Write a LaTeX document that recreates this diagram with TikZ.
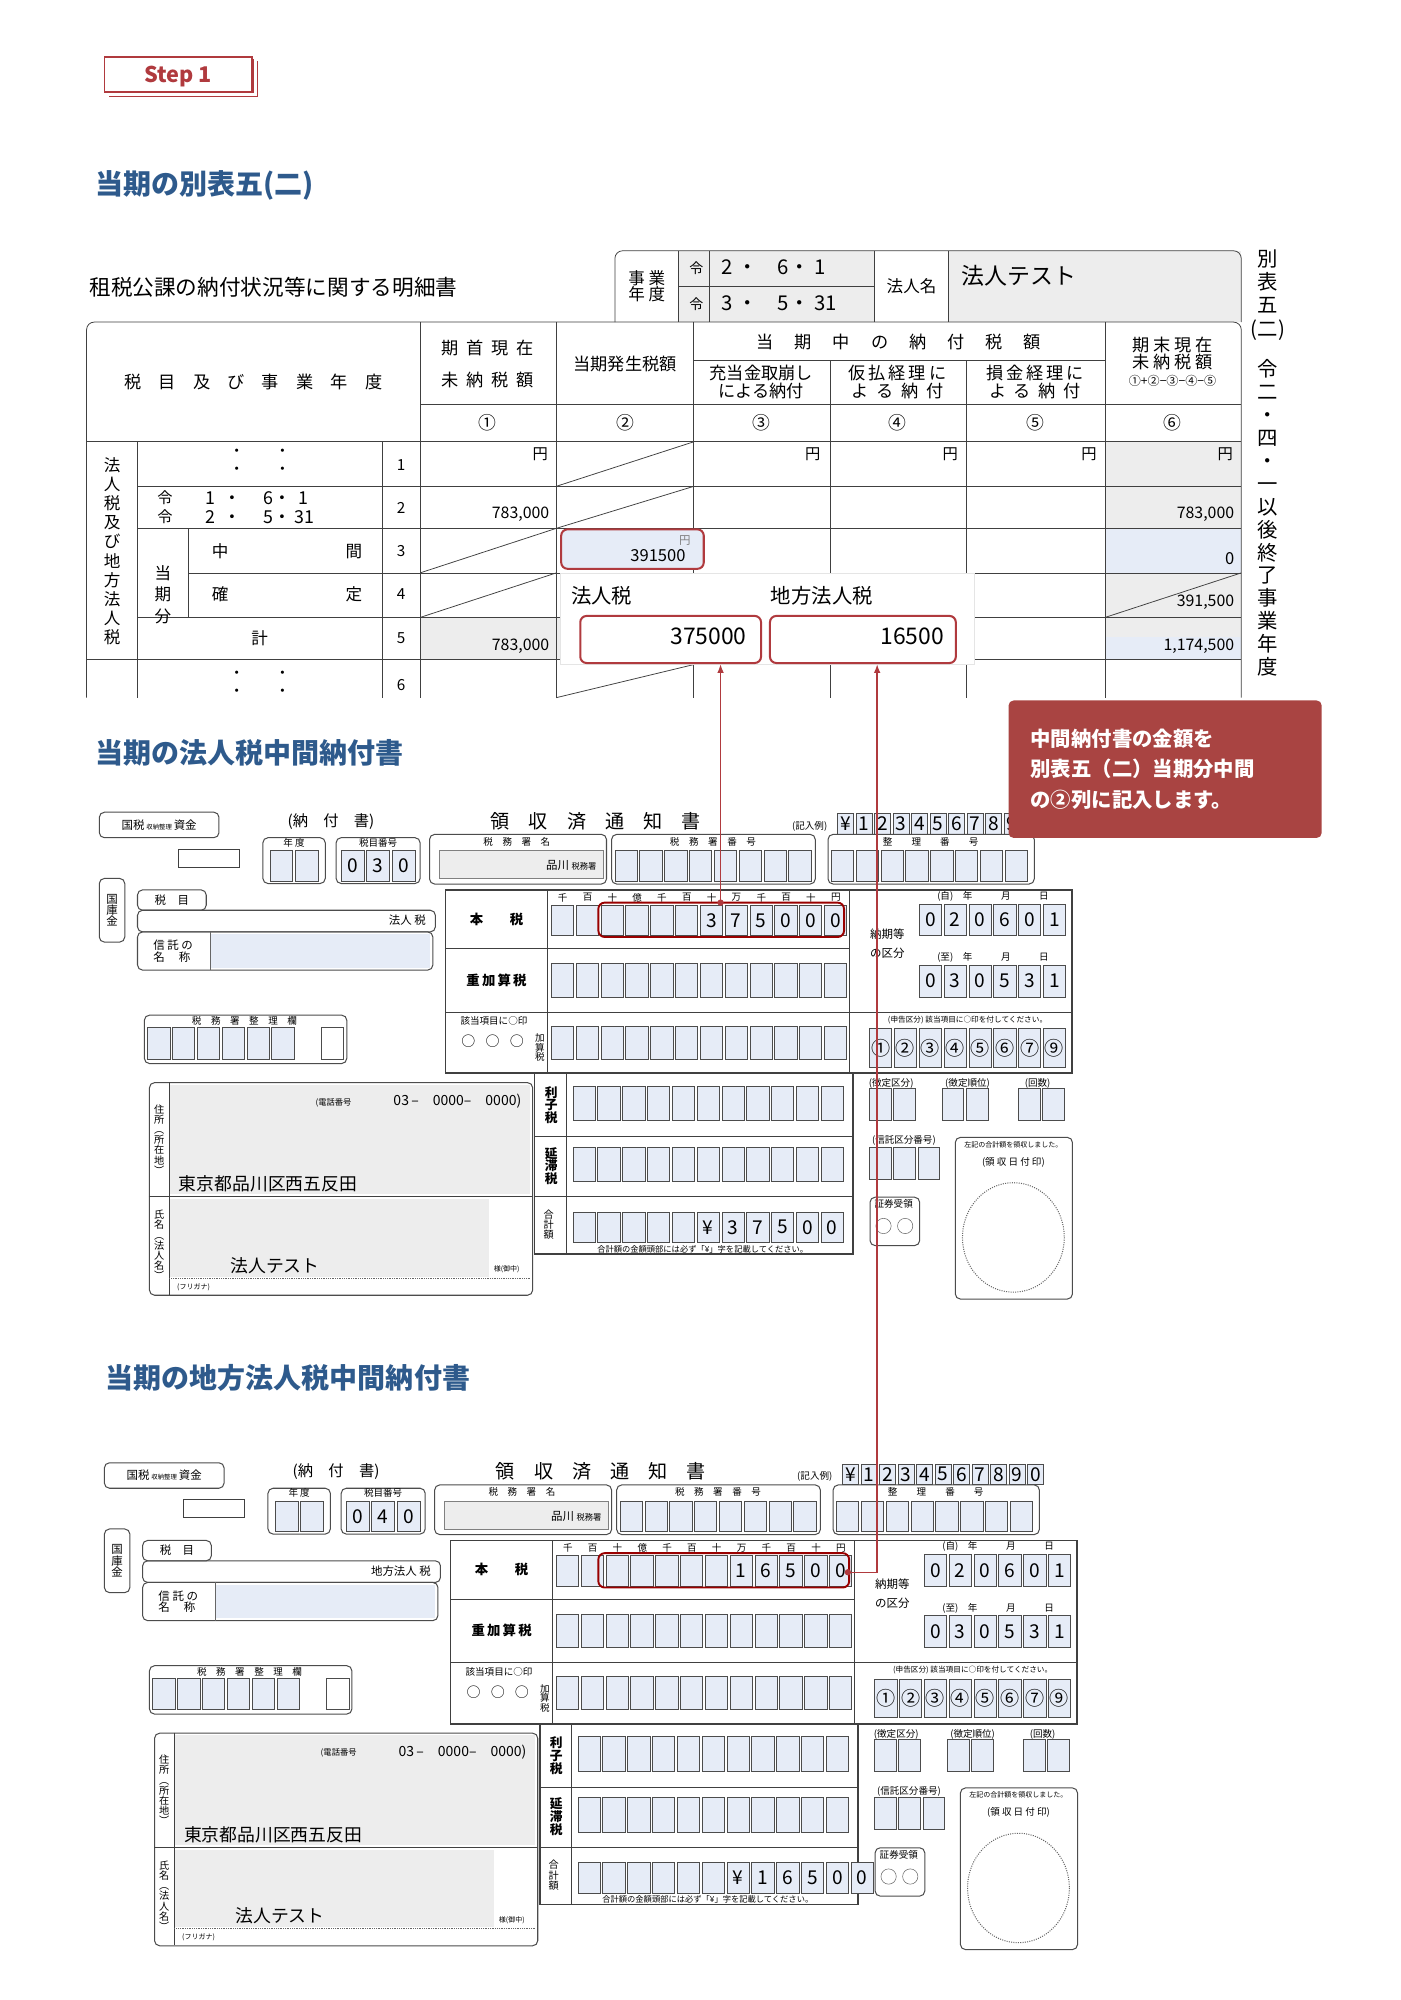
\documentclass[tikz,border=0pt]{standalone}
\usepackage{fontspec}
\setmainfont{Noto Sans CJK JP}
\usetikzlibrary{arrows.meta,calc}
\definecolor{ttl}{HTML}{2E5A8C}
\definecolor{rd}{HTML}{B03A3E}
\definecolor{callout}{HTML}{A94442}
\definecolor{cellbg}{HTML}{E6ECF7}
\definecolor{gry}{HTML}{EDEDED}
\newcommand\fs[1]{\fontsize{#1}{#1}\selectfont}
\tikzset{
  grid/.style={draw=black!75, line width=0.6},
  cellst/.style={draw=black!70, fill=cellbg, line width=0.5},
  rbox/.style={draw=black!70, rounded corners=4, line width=0.8},
  redbox/.style={draw=rd, rounded corners=5, line width=1.6},
  lbl/.style={font=\fs{7.5}, inner sep=0},
  hd/.style={font=\fs{13.5}, inner sep=0, align=center},
  ttlst/.style={font=\fs{22}\bfseries, text=ttl, anchor=west, inner sep=0},
}
% x y w h list
\newcommand\drow[5]{\foreach \d [count=\i from 0] in {#5}{%
  \draw[cellst] ({#1+\i*#3},#2) rectangle ++(#3-2,#4);
  \node[font=\fs{15}, inner sep=0] at ({#1+\i*#3+(#3-2)/2},{#2+#4/2}) {\d};}}
% prefix, code list, taxname, main list, total list
\newcommand\theform[5]{%
 \node[rbox, minimum width=94, minimum height=20, font=\fs{9}] (#1kz) at (125,648) {国税\,{\fs{5}収納整理}\,資金};
 \node[font=\fs{12}] (#1nf) at (260,645) {(納\quad 付\quad 書)};
 \node[font=\fs{15}] (#1ry) at (468,645) {領\quad 収\quad 済\quad 通\quad 知\quad 書};
 \node[lbl] (#1ex) at (636,649) {(記入例)};
 \drow{658}{639}{14.5}{16}{¥,1,2,3,4,5,6,7,8,9,0}
 \draw[grid] (140,667) rectangle (188,681);
 \node[rbox, minimum width=49, minimum height=36] (#1nd) at (231,676) {};
 \node[lbl] at (231,662) {年\ 度};
 \drow{212}{668}{20}{24}{{},{}}
 \node[rbox, minimum width=66, minimum height=36] (#1zm) at (297,676) {};
 \node[lbl] at (297,662) {税目番号};
 \drow{268}{668}{20}{24}{#2}
 \node[rbox, minimum width=139, minimum height=39, anchor=north west] (#1zs) at (337,655) {};
 \node[lbl] at (406,661) {税\quad 務\quad 署\quad 名};
 \draw[fill=gry, draw=black!50] (345,668) rectangle (474,690);
 \node[font=\fs{9}, anchor=east] at (472,680) {品川 {\fs{6.5}税務署}};
 \node[rbox, minimum width=160, minimum height=39, anchor=north west] (#1zb) at (480,655) {};
 \node[lbl] at (560,661) {税\quad 務\quad 署\quad 番\quad 号};
 \drow{483}{668}{19.5}{24}{{},{},{},{},{},{},{},{}}
 \node[rbox, minimum width=162, minimum height=39, anchor=north west] (#1sb) at (650,655) {};
 \node[lbl] at (731,661) {整\qquad 理\qquad 番\qquad 号};
 \drow{653}{668}{19.5}{24}{{},{},{},{},{},{},{},{}}
 \node[rbox, minimum width=20, minimum height=50, font=\fs{9}, align=center] (#1kk) at (88,715) {国\\庫\\金};
 \node[rbox, minimum width=54, minimum height=16, font=\fs{9}] (#1zmk) at (135,707) {税\quad 目};
 \draw[rbox] (108,715) rectangle (342,732);
 \node[font=\fs{9}, anchor=east] at (338,723) {#3};
 \draw[rbox] (108,732) rectangle (340,762);
 \fill[cellbg] (165,734) rectangle (338,760);
 \draw[black!60] (165,732) -- (165,762);
 \node[font=\fs{9}, align=left] at (136,747) {信\ 託\ の\\名\quad\ 称};
 \node[rbox, minimum width=159, minimum height=38, anchor=north west] (#1ss) at (113,797) {};
 \node[lbl] at (192,802) {税\quad 務\quad 署\quad 整\quad 理\quad 欄};
 \drow{116}{807}{19.5}{25}{{},{},{},{},{},{}}
 \draw[cellst, fill=white] (252,807) rectangle (270,832);
 % main grid
 \draw[grid, line width=1.2] (350,699) rectangle (842,843);
 \draw[grid] (350,745) -- (667,745) (350,795) -- (667,795) (430,699) -- (430,843) (667,699) -- (667,843) (667,795) -- (842,795);
 \node[font=\fs{10.5}\bfseries] (#1hz) at (390,722) {本\qquad 税};
 \node[font=\fs{10.5}\bfseries] at (390,770) {重\,加\,算\,税};
 \node[lbl] at (388,802) {該当項目に○印};
 \foreach \k in {0,1,2}{\node[font=\fs{11}, inner sep=0] at ({368+\k*19},818) {○};}
 \node[font=\fs{7.5}, align=center] at (424,823) {加\\算\\税};
 \foreach \c [count=\i from 0] in {千,百,十,億,千,百,十,万,千,百,十,円}{\node[font=\fs{7.5}, inner sep=0] at ({442+\i*19.5},705) {\c};}
 \drow{433}{711}{19.5}{24}{#4}
 \drow{433}{757}{19.5}{26}{{},{},{},{},{},{},{},{},{},{},{},{}}
 \drow{433}{806}{19.5}{26}{{},{},{},{},{},{},{},{},{},{},{},{}}
 \node[font=\fs{9}, align=center] at (697,741) {納期等\\[6pt]の区分};
 \node[lbl] at (780,704) {(自)\quad 年\qquad\quad 月\qquad\quad 日};
 \drow{722}{710}{19.5}{25}{0,2,0,6,0,1}
 \node[lbl] at (780,752) {(至)\quad 年\qquad\quad 月\qquad\quad 日};
 \drow{722}{758}{19.5}{25}{0,3,0,5,3,1}
 \node[font=\fs{6}, inner sep=0] at (760,801) {(申告区分)\ 該当項目に○印を付してください。};
 \drow{683}{808}{19.5}{30}{①,②,③,④,⑤,⑥,⑦,⑨}
 % lower grid
 \draw[grid, line width=1.2] (420,843) rectangle (670,985);
 \draw[grid] (420,893) -- (670,893) (420,940) -- (670,940) (445,843) -- (445,985);
 \node[font=\fs{10}\bfseries, align=center] at (433,868) {利\\子\\税};
 \node[font=\fs{10}\bfseries, align=center] at (433,916) {延\\滞\\税};
 \node[font=\fs{8}, align=center] at (431,962) {合\\計\\額};
 \drow{450}{853}{19.5}{27}{{},{},{},{},{},{},{},{},{},{},{}}
 \drow{450}{901}{19.5}{27}{{},{},{},{},{},{},{},{},{},{},{}}
 \drow{450}{952}{19.5}{24}{#5}
 \node[font=\fs{6.5}] at (552,981) {合計額の金額頭部には必ず「¥」字を記載してください。};
 % right small boxes
 \node[lbl] at (700,851) {(徴定区分)}; \drow{683}{855}{19}{25}{{},{}}
 \node[lbl] at (760,851) {(徴定順位)}; \drow{740}{855}{19}{25}{{},{}}
 \node[lbl] at (815,851) {(回数)}; \drow{800}{855}{19}{25}{{},{}}
 \node[lbl] at (710,896) {(信託区分番号)}; \drow{683}{901}{19}{25}{{},{},{}}
 \node[rbox, minimum width=39, minimum height=38, anchor=north west] (#1sk) at (683,940) {};
 \node[lbl] at (702,946) {証券受領};
 \foreach \k in {0,1}{\draw[black!60] ({694+\k*17},963) circle (6);}
 \node[rbox, minimum width=92, minimum height=127, anchor=north west] (#1st) at (750,893) {};
 \node[font=\fs{5.5}] at (796,899) {左記の合計額を領収しました。};
 \node[lbl] at (796,913) {(領\ 収\ 日\ 付\ 印)};
 \draw[black!60, densely dotted, line width=0.8] (796,972) ellipse (40 and 43);
 % address
 \node[rbox, minimum width=301, minimum height=167, anchor=north west] (#1ad) at (117,850) {};
 \fill[gry] (133,852) rectangle (416,938);
 \fill[gry] (133,942) rectangle (384,1003);
 \draw[grid] (117,940) -- (418,940) (133,850) -- (133,1017);
 \draw[black!60, densely dotted] (133,1004) -- (416,1004);
 \node[font=\fs{8}, align=center] at (125,895) {住\\所\\︵\\所\\在\\地\\︶};
 \node[font=\fs{8}, align=center] at (125,978) {氏\\名\\︵\\法\\人\\名\\︶};
 \node[font=\fs{6.5}] at (262,866) {(電話番号};
 \node[font=\fs{11}, anchor=east] at (413,865) {03\,\textendash\quad 0000\textendash\quad 0000)};
 \node[font=\fs{14}, anchor=west] (#1adr) at (137,930) {東京都品川区西五反田};
 \node[font=\fs{14}] (#1nm) at (216,994) {法人テスト};
 \node[font=\fs{5.5}] at (398,997) {様(御中)};
 \node[font=\fs{5.5}] at (152,1011) {(フリガナ)};
}
\begin{document}
\begin{tikzpicture}[x=1pt,y=-1pt]
\useasboundingbox (0,0) rectangle (1100,1571);
\fill[white] (0,0) rectangle (1100,1571);
% Step 1
\draw[rd, line width=0.8] (86,76) -- (202,76) -- (202,48);
\draw[rd, line width=0.8] (85,73) -- (199,73) -- (199,46);
\draw[rd, line width=1.4] (82,45) rectangle (198,72);
\node[font=\fs{17}\bfseries, text=rd, inner sep=0] (step) at (140,60) {Step 1};
\node[ttlst] (t1) at (75,146) {当期の別表五(二)};
\node[font=\fs{17}, anchor=west, inner sep=0] (t1s) at (70,226) {租税公課の納付状況等に関する明細書};
% header box
\fill[gry] (533,197) rectangle (975,253);
\fill[white] (687,197) rectangle (745,253);
\draw[grid, rounded corners=6] (483,253) -- (483,197) -- (975,197) -- (975,253);
\draw[grid] (533,197) -- (533,253) (557,197) -- (557,253) (687,197) -- (687,253) (745,197) -- (745,253) (533,225) -- (687,225);
\node[font=\fs{13}, align=center] at (508,225) {事\ 業\\年\ 度};
\node[font=\fs{11}] at (547,211) {令}; \node[font=\fs{11}] at (547,239) {令};
\node[font=\fs{16}, anchor=west] at (563,210) {2\ ・\quad 6・\ 1};
\node[font=\fs{16}, anchor=west] at (563,238) {3\ ・\quad 5・ 31};
\node[font=\fs{13}] at (716,225) {法人名};
\node[font=\fs{18}, anchor=west] (corp) at (752,217) {法人テスト};
% main table
\fill[gry] (868,347) rectangle (975,518);
\fill[cellbg] (868,415) rectangle (975,450);
\fill[cellbg] (868,500) rectangle (975,518);
\fill[gry] (330,485) rectangle (545,518);
\draw[grid, rounded corners=6] (68,548) -- (68,253) -- (975,253) -- (975,548);
\draw[grid] (108,347) -- (108,548) (148,415) -- (148,485) (300,347) -- (300,548)
 (330,253) -- (330,548) (437,253) -- (437,548) (545,253) -- (545,548) (652,283) -- (652,548)
 (759,283) -- (759,548) (868,253) -- (868,548);
\draw[grid] (545,283) -- (868,283) (330,318) -- (975,318) (68,347) -- (975,347)
 (108,382) -- (975,382) (108,415) -- (975,415) (148,450) -- (975,450) (108,485) -- (975,485) (68,518) -- (975,518);
\draw[grid] (437,382) -- (545,347) (437,415) -- (545,382) (330,450) -- (437,415) (330,485) -- (437,450) (868,485) -- (975,450) (437,548) -- (545,522);
\node[hd] at (199,300) {税\quad 目\quad 及\quad び\quad 事\quad 業\quad 年\quad 度};
\node[hd] at (383,286) {期\ \ 首\ \ 現\ \ 在\\[12pt]未\ \ 納\ \ 税\ \ 額};
\node[hd] at (491,286) {当期発生税額};
\node[hd] at (706,269) {当\quad\ 期\quad\ 中\quad\ の\quad\ 納\quad\ 付\quad\ 税\quad\ 額};
\node[hd] at (598,300) {充当金取崩し\\による納付};
\node[hd] at (705,300) {仮\,払\,経\,理\,に\\よ\ \ る\ \ 納\ \ 付};
\node[hd] at (813,300) {損\,金\,経\,理\,に\\よ\ \ る\ \ 納\ \ 付};
\node[hd] at (921,284) {期\ 末\ 現\ 在\\未\ 納\ 税\ 額\\{\fs{9.5}①+②−③−④−⑤}};
\foreach \x/\c in {383/①,491/②,598/③,705/④,813/⑤,921/⑥}{\node[font=\fs{14}] at (\x,332) {\c};}
\node[font=\fs{13}, align=center, inner sep=0] at (88,433) {法\\[2pt]人\\[2pt]税\\[2pt]及\\[2pt]び\\[2pt]地\\[2pt]方\\[2pt]法\\[2pt]人\\[2pt]税};
\node[font=\fs{13}, align=center] at (128,467) {当\\[4pt]期\\[4pt]分};
\foreach \y/\n in {365/1,399/2,433/3,467/4,501/5,538/6}{\node[font=\fs{12}] at (315,\y) {\n};}
\foreach \y in {356,370,530,544}{\node[font=\fs{12}] at (204,\y) {・\qquad ・};}
\node[font=\fs{12}, anchor=west] at (120,391) {令}; \node[font=\fs{12}, anchor=west] at (120,406) {令};
\node[font=\fs{14}, anchor=west] at (158,391) {1\ \ ・\quad\ 6・\ \ 1};
\node[font=\fs{14}, anchor=west] at (158,406) {2\ \ ・\quad\ 5・\ 31};
\node[font=\fs{13}] at (173,433) {中}; \node[font=\fs{13}] at (278,433) {間};
\node[font=\fs{13}] at (173,467) {確}; \node[font=\fs{13}] at (278,467) {定};
\node[font=\fs{13}] at (204,501) {計};
\foreach \x in {434,648,756,865,972}{\node[font=\fs{12}, anchor=north east] at (\x,348) {円};}
\node[font=\fs{12.5}, anchor=south east] at (435,413) {783,000};
\node[font=\fs{12.5}, anchor=south east] at (435,517) {783,000};
\node[font=\fs{12.5}, anchor=south east] at (973,413) {783,000};
\node[font=\fs{13}, anchor=south east] at (973,447) {0};
\node[font=\fs{12.5}, anchor=south east] at (973,482) {391,500};
\node[font=\fs{12.5}, anchor=south east] at (973,517) {1,174,500};
\node[font=\fs{16}, align=center, inner sep=0, anchor=north] at (996,196) {別\\[2pt]表\\[2pt]五\\[3pt](二)\\[14pt]令\\[2pt]二\\[2pt]・\\[2pt]四\\[2pt]・\\[2pt]一\\[2pt]以\\[2pt]後\\[2pt]終\\[2pt]了\\[2pt]事\\[2pt]業\\[2pt]年\\[2pt]度};
% highlighted cell and popup
\node[redbox, fill=cellbg, minimum width=112, minimum height=31, anchor=north west] (cur) at (440,415) {};
\node[font=\fs{13}, anchor=south east] at (542,445) {391500};
\node[font=\fs{9}, text=black!50, anchor=north east] at (546,417) {円};
\fill[white, draw=black!10] (440,450) rectangle (765,522);
\node[font=\fs{16}, anchor=west] at (445,468) {法人税};
\node[font=\fs{16}, anchor=west] at (602,468) {地方法人税};
\node[redbox, minimum width=142, minimum height=37, anchor=north west] (hz) at (455,483) {};
\node[font=\fs{18}, anchor=east] at (590,500) {375000};
\node[redbox, minimum width=146, minimum height=37, anchor=north west] (ch) at (604,483) {};
\node[font=\fs{18}, anchor=east] at (745,500) {16500};
% titles
\node[ttlst] (t2) at (75,591) {当期の法人税中間納付書};
\node[ttlst] (t3) at (83,1082) {当期の地方法人税中間納付書};
% forms
\begin{scope}
\theform{a}{0,3,0}{法人 税}{{},{},{},{},{},{},3,7,5,0,0,0}{{},{},{},{},{},¥,3,7,5,0,0}
\end{scope}
\draw[red!60!black, line width=1.5, rounded corners=5] (470,709) rectangle (663,736);
\begin{scope}[shift={(4,511)}]
\theform{b}{0,4,0}{地方法人 税}{{},{},{},{},{},{},{},1,6,5,0,0}{{},{},{},{},{},{},¥,1,6,5,0,0}
\end{scope}
\draw[red!60!black, line width=1.5, rounded corners=5] (470,1220) rectangle (667,1247);
% connectors
\coordinate (d1) at (566,709);
\coordinate (d2) at (666,1235);
\coordinate (c2) at (689,1235);
\draw[rd, line width=1.2, -{Latex[length=7]}] (d1) -- (d1 |- hz.south);
\draw[rd, line width=1.2, -{Latex[length=7]}] (d2) -- (c2) -- (c2 |- ch.south);
\fill[rd] (d1) circle (2.5) (d2) circle (2.5);
% callout
\node[fill=callout, rounded corners=4, minimum width=246, minimum height=108, anchor=north west] (co) at (792,550) {};
\node[font=\fs{16}\bfseries, text=white, align=left, anchor=west] at (806,604) {中間納付書の金額を\\[8pt]別表五（二）当期分中間\\[8pt]の②列に記入します。};
\end{tikzpicture}
\end{document}
